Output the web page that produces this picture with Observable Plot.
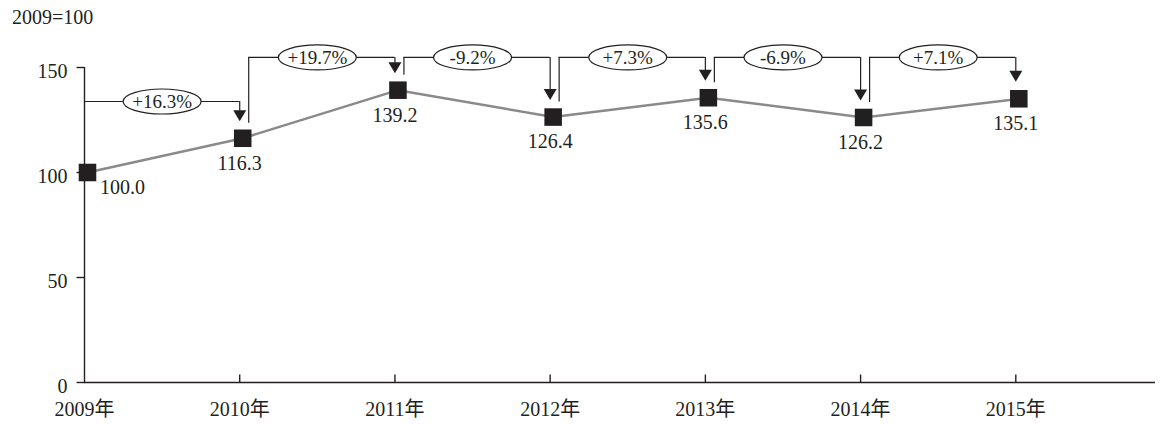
<!DOCTYPE html>
<html>
<head>
<meta charset="utf-8">
<script src="https://cdn.jsdelivr.net/npm/d3@7"></script>
<script src="https://cdn.jsdelivr.net/npm/@observablehq/plot@0.6"></script>
<style>
  body { margin: 0; background: #fff; }
  #wrap { position: relative; width: 1167px; height: 424px; }
  #unit { position: absolute; left: 12px; top: 6px; font-size: 20px; font-family: "Liberation Serif", "Times New Roman", "DejaVu Serif", "Noto Sans CJK SC", serif; color: #231f20; }
</style>
</head>
<body>
<div id="wrap"><div id="unit">2009=100</div></div>
<script>
const years = [2009, 2010, 2011, 2012, 2013, 2014, 2015];
const values = [100.0, 116.3, 139.2, 126.4, 135.6, 126.2, 135.1];
const changes = ["+16.3%", "+19.7%", "-9.2%", "+7.3%", "-6.9%", "+7.1%"];
const yTicks = [0, 50, 100, 150];
const yearSuffix = "年";

const ink = "#231f20";
const font = '"Liberation Serif", "Times New Roman", "DejaVu Serif", "Noto Sans CJK SC", serif';
const data = years.map((year, i) => ({year, value: values[i], first: i === 0}));
const brackets = changes.map((label, i) => ({
  i, label,
  x0: years[i], x1: years[i + 1],
  v0: values[i], v1: values[i + 1],
  mid: (years[i] + years[i + 1]) / 2,
  level: i === 0 ? 133.8 : 154.8
}));

const ellipse = {draw(ctx) {
  const rx = 39, ry = 12.5, k = 0.5523;
  ctx.moveTo(rx, 0);
  ctx.bezierCurveTo(rx, ry * k, rx * k, ry, 0, ry);
  ctx.bezierCurveTo(-rx * k, ry, -rx, ry * k, -rx, 0);
  ctx.bezierCurveTo(-rx, -ry * k, -rx * k, -ry, 0, -ry);
  ctx.bezierCurveTo(rx * k, -ry, rx, -ry * k, rx, 0);
  ctx.closePath();
}};
const arrowHead = {draw(ctx) {
  ctx.moveTo(-6.5, -11); ctx.lineTo(6.5, -11); ctx.lineTo(0, 0); ctx.closePath();
}};
const tickUp = {draw(ctx) { ctx.moveTo(0, 0); ctx.lineTo(0, -8); }};
const tickLeft = {draw(ctx) { ctx.moveTo(0, 0); ctx.lineTo(-8, 0); }};

const chart = Plot.plot({
  width: 1167,
  height: 424,
  marginLeft: 84,
  marginRight: 12,
  marginTop: 67,
  marginBottom: 42,
  style: {fontFamily: font, fontSize: "20px", color: ink, background: "#fff"},
  x: {type: "linear", domain: [2009, 2015.9]},
  y: {domain: [0, 150]},
  marks: [
    Plot.axisY({ticks: yTicks, tickSize: 0, tickPadding: 17, dy: 4, label: null, fontFamily: font, fill: ink}),
    Plot.axisX({ticks: years, tickSize: 0, tickPadding: 19, tickFormat: d => d + yearSuffix, label: null, fontFamily: font, fill: ink}),
    Plot.ruleX([2009], {stroke: ink, strokeWidth: 1.4}),
    Plot.ruleY([0], {stroke: ink, strokeWidth: 1.4}),
    Plot.dot(years.slice(1), {x: d => d, y: () => 0, symbol: tickUp, stroke: ink, fill: "none", strokeWidth: 1.4}),
    Plot.dot(yTicks, {x: () => 2009, y: d => d, symbol: tickLeft, stroke: ink, fill: "none", strokeWidth: 1.4}),
    // brackets
    Plot.ruleX(brackets.filter(d => d.i > 0), {x: "x0", y1: "level", y2: "v0", dx: 9, insetBottom: 15, stroke: ink, strokeWidth: 1.2}),
    Plot.ruleY(brackets.filter(d => d.i === 0), {y: "level", x1: "x0", x2: "x1", stroke: ink, strokeWidth: 1.2}),
    Plot.ruleY(brackets.filter(d => d.i > 0), {y: "level", x1: "x0", x2: "x1", insetLeft: 9, stroke: ink, strokeWidth: 1.2}),
    Plot.ruleX(brackets, {x: "x1", y1: "level", y2: "v1", insetBottom: 26, stroke: ink, strokeWidth: 1.2}),
    Plot.dot(brackets, {x: "x1", y: "v1", dy: -17, symbol: arrowHead, fill: ink, stroke: "none"}),
    Plot.dot(brackets, {x: "mid", y: "level", symbol: ellipse, fill: "#fff", stroke: ink, strokeWidth: 1.2}),
    Plot.text(brackets, {x: "mid", y: "level", text: "label", fontSize: 19, fontFamily: font, fill: ink}),
    // series
    Plot.line(data, {x: "year", y: "value", stroke: "#8a8a8a", strokeWidth: 2.5, dx: 3}),
    Plot.dot(data, {x: "year", y: "value", symbol: "square", r: 9.9, fill: ink, stroke: "none", dx: 3}),
    Plot.text(data.filter(d => d.first), {x: "year", y: "value", text: d => d.value.toFixed(1), dx: 38, dy: 15, fontFamily: font, fill: ink}),
    Plot.text(data.filter(d => !d.first), {x: "year", y: "value", text: d => d.value.toFixed(1), dy: 25, fontFamily: font, fill: ink})
  ]
});
document.getElementById("wrap").appendChild(chart);
</script>
</body>
</html>
